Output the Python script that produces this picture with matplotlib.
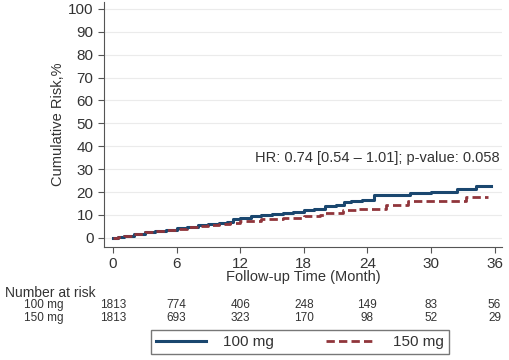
import matplotlib
matplotlib.use("Agg")
import matplotlib.pyplot as plt
import matplotlib.transforms as mtransforms

plt.rcParams['font.family'] = ['Liberation Sans', 'DejaVu Sans']

# step curves (months, cumulative risk %)
t_100 = [0, 0.5, 1, 2, 3, 4, 5, 6, 7, 8, 9, 10, 10.8, 11.3, 12, 13, 14, 15, 16, 17,
         18, 19, 20, 21, 21.8, 22.5, 23.5, 24.6, 26, 28, 30, 32.5, 34.2, 35.7]
r_100 = [0, 0.5, 1, 1.8, 2.5, 3, 3.6, 4.3, 4.8, 5.5, 6, 6.5, 7, 8.3, 8.5, 9.5, 10, 10.5, 11, 11.3,
         12, 12.8, 13.8, 14.5, 15.5, 16, 16.5, 18.5, 18.8, 19.5, 20.2, 21.2, 22.5, 22.5]
t_150 = [0, 0.5, 1, 2, 3, 4, 5, 6, 7, 8, 9, 10, 11, 12, 14, 16, 18, 19.5, 20, 21.7,
         23, 25.8, 27.8, 33.3, 35.4]
r_150 = [0, 0.5, 1, 1.8, 2.4, 3, 3.5, 4, 4.6, 5.1, 5.6, 6.1, 6.6, 7.5, 8.2, 8.8, 9.5, 10, 11, 12.2,
         12.5, 14.5, 16, 18, 18]

xticks = [0, 6, 12, 18, 24, 30, 36]
risk_100 = [1813, 774, 406, 248, 149, 83, 56]
risk_150 = [1813, 693, 323, 170, 98, 52, 29]

navy = "#1a476f"
maroon = "#90353b"
txt = "#333333"

fig = plt.figure(figsize=(5.09, 3.6), dpi=100)
ax = fig.add_axes([104/509, 1-247/360, (502-104)/509, (247-2)/360])

l1, = ax.plot(t_100, r_100, drawstyle="steps-post", color=navy, lw=2.2, label="100 mg")
l2, = ax.plot(t_150, r_150, drawstyle="steps-post", color=maroon, lw=2.0,
              ls=(0, (3, 1.5)), label="150 mg")

ax.set_xlim(-0.85, 36.7)
ax.set_ylim(-4, 103)
ax.set_yticks(range(0, 101, 10))
ax.set_xticks(xticks)
ax.grid(axis="y", color="#ebebeb", lw=0.8)
ax.set_axisbelow(True)
for s in ["top", "right"]:
    ax.spines[s].set_visible(False)
for s in ["left", "bottom"]:
    ax.spines[s].set_color("#555555")
ax.tick_params(colors="#555555", labelcolor=txt, labelsize=11, length=4)
ax.set_ylabel("Cumulative Risk,%", fontsize=10.5, color=txt, labelpad=2)
ax.set_xlabel("Follow-up Time (Month)", fontsize=10.5, color=txt, labelpad=-1)

ax.text(36.5, 35, "HR: 0.74 [0.54 \u2013 1.01]; p-value: 0.058", ha="right", va="center",
        fontsize=10.5, color=txt)

# number at risk table
tr = mtransforms.blended_transform_factory(ax.transData, fig.transFigure)
fig.text(5/509, 1-293/360, "Number at risk", fontsize=10, color=txt, va="center")
fig.text(63/509, 1-305/360, "100 mg", fontsize=8.5, color=txt, va="center", ha="right")
fig.text(63/509, 1-318/360, "150 mg", fontsize=8.5, color=txt, va="center", ha="right")
for x, a, b in zip(xticks, risk_100, risk_150):
    ax.text(x, 1-305/360, str(a), transform=tr, ha="center", va="center", fontsize=8.5, color=txt)
    ax.text(x, 1-318/360, str(b), transform=tr, ha="center", va="center", fontsize=8.5, color=txt)

leg = fig.legend(handles=[l1, l2], loc="center", bbox_to_anchor=(300/509, 1-342/360), ncol=2,
                 fontsize=11, frameon=True, fancybox=False, edgecolor="#555555",
                 handlelength=3.3, handletextpad=1.1, columnspacing=3.4, borderpad=0.35,
                 borderaxespad=0)
leg.get_frame().set_linewidth(1.0)
for t in leg.get_texts():
    t.set_color(txt)

fig.savefig("out.png", dpi=100)
